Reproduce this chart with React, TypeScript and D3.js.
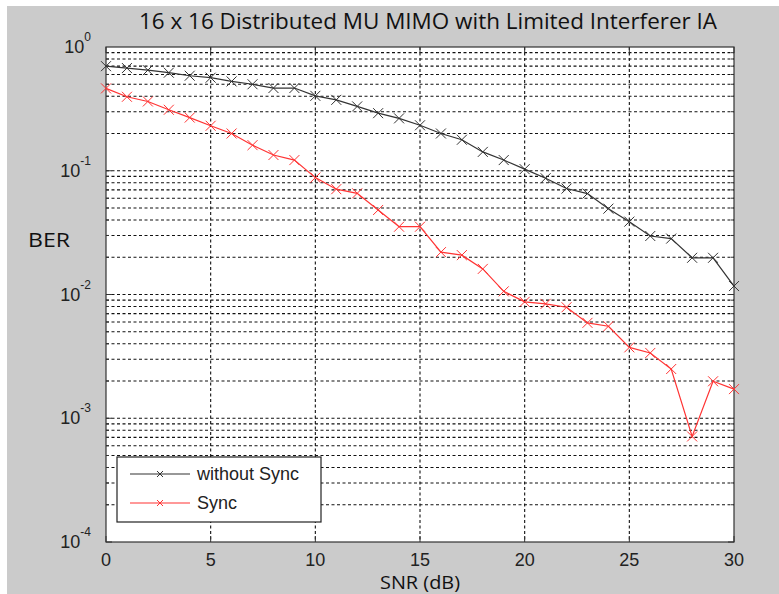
import { useRef, useEffect } from 'react'
import * as d3 from 'd3'

const snr = d3.range(0, 31)
const withoutSync = [0.70, 0.676, 0.65, 0.62, 0.586, 0.565, 0.527, 0.50, 0.466, 0.466,
  0.403, 0.374, 0.331, 0.292, 0.265, 0.233, 0.20, 0.178, 0.142, 0.122,
  0.103, 0.087, 0.0718, 0.0654, 0.0494, 0.0388, 0.0297, 0.0283, 0.0198, 0.0198, 0.0117]
const sync = [0.463, 0.396, 0.363, 0.311, 0.269, 0.231, 0.20, 0.161, 0.134, 0.122,
  0.088, 0.071, 0.0657, 0.0482, 0.0353, 0.0353, 0.022, 0.0208, 0.0161, 0.0106,
  0.00873, 0.0084, 0.00789, 0.0059, 0.00554, 0.00374, 0.00337, 0.0025, 0.000713, 0.00199, 0.00172]
const xTicks = [0, 5, 10, 15, 20, 25, 30]
const yExps = [0, -1, -2, -3, -4]
const seriesNames = ['without Sync', 'Sync']

function Chart() {
  const ref = useRef<SVGSVGElement>(null)

  useEffect(() => {
    const svg = d3.select(ref.current)
    svg.selectAll('*').remove()

    const left = 106, right = 734, top = 47, bottom = 542
    const x = d3.scaleLinear().domain([0, 30]).range([left, right])
    const y = d3.scaleLog().domain([1e-4, 1]).range([bottom, top])

    svg.append('rect').attr('x', 7).attr('y', 6).attr('width', 772).attr('height', 588)
      .attr('fill', '#cbcbcb')
    svg.append('rect').attr('x', left).attr('y', top).attr('width', right - left)
      .attr('height', bottom - top).attr('fill', '#fff')

    // grid
    const minor: number[] = []
    for (let e = -4; e < 0; e++) for (let m = 1; m < 10; m++) minor.push(m * Math.pow(10, e))
    const g = svg.append('g')
    g.selectAll('line.h').data(minor.filter(v => v > 1e-4)).join('line')
      .attr('x1', left).attr('x2', right)
      .attr('y1', d => y(d)).attr('y2', d => y(d))
      .attr('stroke', '#111').attr('stroke-width', 1.1).attr('stroke-dasharray', '3,2.5')
    g.selectAll('line.v').data(xTicks.slice(1, -1)).join('line')
      .attr('x1', d => x(d)).attr('x2', d => x(d))
      .attr('y1', top).attr('y2', bottom)
      .attr('stroke', '#111').attr('stroke-width', 1.1).attr('stroke-dasharray', '3,2.5')

    // ticks
    const t = svg.append('g').attr('stroke', '#333')
    minor.forEach(v => {
      const len = Math.abs(Math.log10(v) - Math.round(Math.log10(v))) < 1e-9 ? 6 : 3
      t.append('line').attr('x1', left).attr('x2', left + len).attr('y1', y(v)).attr('y2', y(v))
      t.append('line').attr('x1', right).attr('x2', right - len).attr('y1', y(v)).attr('y2', y(v))
    })
    xTicks.forEach(v => {
      t.append('line').attr('x1', x(v)).attr('x2', x(v)).attr('y1', bottom).attr('y2', bottom - 6)
      t.append('line').attr('x1', x(v)).attr('x2', x(v)).attr('y1', top).attr('y2', top + 6)
    })

    svg.append('rect').attr('x', left).attr('y', top).attr('width', right - left)
      .attr('height', bottom - top).attr('fill', 'none').attr('stroke', '#333').attr('stroke-width', 1.2)

    // tick labels
    const font = 'Liberation Sans, Arial, sans-serif'
    svg.append('g').selectAll('text').data(xTicks).join('text')
      .attr('x', d => x(d)).attr('y', 566).attr('text-anchor', 'middle')
      .attr('font-family', font).attr('font-size', 18).attr('fill', '#222')
      .text(d => d)
    yExps.forEach(e => {
      const tx = svg.append('text').attr('x', 91).attr('y', y(Math.pow(10, e)) + 6)
        .attr('text-anchor', 'end').attr('font-family', font).attr('font-size', 18).attr('fill', '#222')
      tx.append('tspan').text('10')
      tx.append('tspan').attr('dy', -12).attr('font-size', 12).text(e)
    })

    // titles
    const cal = 'Open Sans, sans-serif'
    svg.append('text').attr('x', 428).attr('y', 29).attr('text-anchor', 'middle')
      .attr('font-family', cal).attr('font-size', 22).attr('fill', '#111')
      .attr('textLength', 578).attr('lengthAdjust', 'spacingAndGlyphs')
      .text('16 x 16 Distributed MU MIMO with Limited Interferer IA')
    svg.append('text').attr('x', 420).attr('y', 589).attr('text-anchor', 'middle')
      .attr('font-family', cal).attr('font-size', 18).attr('fill', '#111')
      .attr('textLength', 80).attr('lengthAdjust', 'spacingAndGlyphs').text('SNR (dB)')
    svg.append('text').attr('x', 28).attr('y', 247)
      .attr('font-family', cal).attr('font-size', 20).attr('fill', '#111')
      .attr('textLength', 42).attr('lengthAdjust', 'spacingAndGlyphs').text('BER')

    // series
    const colors = ['#333333', '#ff3333']
    const all = [withoutSync, sync]
    const line = d3.line<number>().x((_, i) => x(snr[i])).y(d => y(d))
    all.forEach((vals, k) => {
      svg.append('path').datum(vals).attr('d', line).attr('fill', 'none')
        .attr('stroke', colors[k]).attr('stroke-width', 1.2)
      svg.append('g').selectAll('path').data(vals).join('path')
        .attr('transform', (d, i) => `translate(${x(snr[i])},${y(d)})`)
        .attr('d', 'M-5,-5L5,5M-5,5L5,-5').attr('stroke', colors[k]).attr('stroke-width', 1)
    })

    // legend
    const lg = svg.append('g')
    lg.append('rect').attr('x', 117).attr('y', 457).attr('width', 204).attr('height', 65)
      .attr('fill', '#fff').attr('stroke', '#222').attr('stroke-width', 1.2)
    seriesNames.forEach((name, k) => {
      const yy = 474 + k * 29
      lg.append('line').attr('x1', 130).attr('x2', 190).attr('y1', yy).attr('y2', yy)
        .attr('stroke', colors[k]).attr('stroke-width', 1.2)
      lg.append('path').attr('transform', `translate(160,${yy})`)
        .attr('d', 'M-3,-3L3,3M-3,3L3,-3').attr('stroke', colors[k])
      lg.append('text').attr('x', 197).attr('y', yy + 6).attr('font-family', font)
        .attr('font-size', 18).attr('fill', '#222').text(name)
    })
  })

  return <svg ref={ref} width={779} height={594} style={{ position: 'absolute', left: 0, top: 0 }} />
}

export default function App() {
  return <Chart />
}
